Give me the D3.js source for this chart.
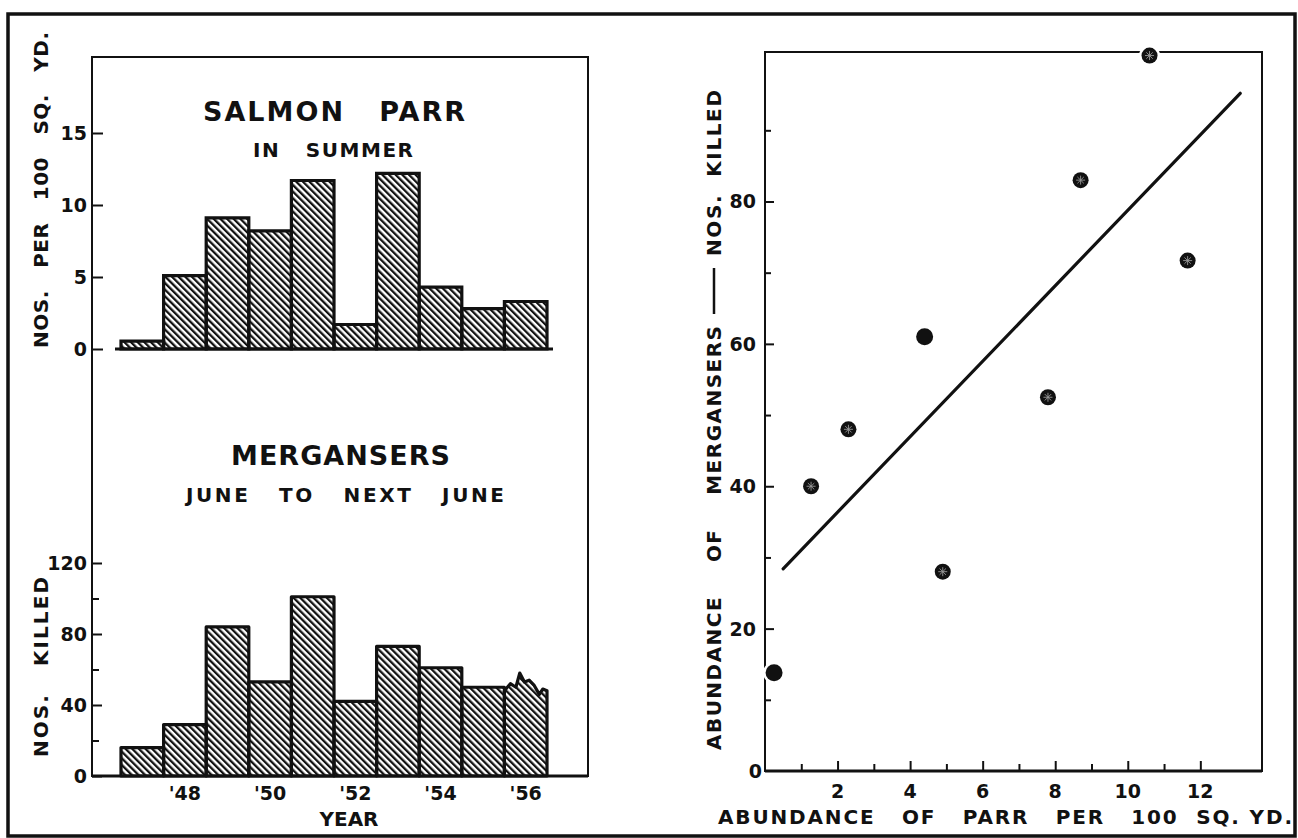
<!DOCTYPE html>
<html>
<head>
  <title>Salmon parr and mergansers</title>
  <script src="https://d3js.org/d3.v7.min.js"></script>
  <style>
    body { margin: 0; background: #fff; }
    text {
      font-family: "DejaVu Sans", sans-serif;
      font-weight: bold;
      fill: #111;
      white-space: pre;
    }
    .tick-label { font-size: 19px; }
    .title { font-size: 27px; }
    .subtitle { font-size: 20px; }
    .axis-title { font-size: 20px; }
  </style>
</head>
<body>
  <svg width="1298" height="838"></svg>

  <script>
    // salmon parr per 100 sq. yd. in summer, 1947-1956
    const years = [1947, 1948, 1949, 1950, 1951, 1952, 1953, 1954, 1955, 1956];
    const yearTicks = [1948, 1950, 1952, 1954, 1956];
    const yearLabels = ["'48", "'50", "'52", "'54", "'56"];
    const parr = [0.55, 5.1, 9.1, 8.2, 11.7, 1.7, 12.2, 4.3, 2.8, 3.3];
    const parrTicks = [0, 5, 10, 15];

    // mergansers killed, June to next June
    const mergansers = [16, 29, 84, 53, 101, 42, 73, 61, 50, 48];
    const mergTicks = [0, 40, 80, 120];
    const mergMinor = [20, 60, 100];
    // ragged top of the last (incomplete) bar: [fraction of bar width, value]
    const lastTop = [[0, 48], [0.14, 52], [0.27, 50], [0.36, 58], [0.47, 53], [0.58, 54], [0.7, 51], [0.82, 46], [0.9, 49], [1, 48]];

    // scatter: abundance of parr vs mergansers killed
    const abundParr = [0.25, 1.27, 2.3, 4.4, 4.9, 7.8, 8.7, 10.6, 11.65];
    const abundMerg = [13.8, 40, 48, 61, 28, 52.5, 83, 100.5, 71.7];
    const solidPoint = [true, false, false, true, false, false, false, false, false];
    const fitX = [0.5, 13.1];
    const fitY = [28.4, 95.2];
    const sxTicks = [2, 4, 6, 8, 10, 12];
    const sxMinor = [1, 3, 5, 7, 9, 11];
    const syTicks = [20, 40, 60, 80];
    const syMinor = [10, 30, 50, 70, 90];

    const svg = d3.select('svg');
    svg.append('rect').attr('width', 1298).attr('height', 838).attr('fill', '#fff');

    // hatch pattern
    const defs = svg.append('defs');
    defs.append('pattern')
      .attr('id', 'hatch')
      .attr('patternUnits', 'userSpaceOnUse')
      .attr('width', 4.7).attr('height', 10)
      .attr('patternTransform', 'rotate(-45)')
      .append('rect')
      .attr('x', 0).attr('y', 0).attr('width', 2.3).attr('height', 10)
      .attr('fill', '#111');

    // outer frame
    svg.append('rect')
      .attr('x', 8).attr('y', 14).attr('width', 1287).attr('height', 822)
      .attr('fill', 'none').attr('stroke', '#111').attr('stroke-width', 3.5);

    // ---------- left panel ----------
    const x = d3.scaleBand().domain(years).range([121, 547]).padding(0);
    const yParr = d3.scaleLinear().domain([0, 15]).range([349, 133]);
    const yMerg = d3.scaleLinear().domain([0, 120]).range([776, 563]);

    // box
    svg.append('rect')
      .attr('x', 92).attr('y', 57).attr('width', 496).attr('height', 719)
      .attr('fill', 'none').attr('stroke', '#111').attr('stroke-width', 2);

    function barPath(d, i, yScale, top) {
      const x0 = x(years[i]), x1 = x0 + x.bandwidth();
      const y0 = yScale(0);
      let p = `M${x0},${y0}L${x0},${yScale(d)}`;
      if (top) {
        top.forEach(t => { p += `L${x0 + t[0] * (x1 - x0)},${yScale(t[1])}`; });
      } else {
        p += `L${x1},${yScale(d)}`;
      }
      return p + `L${x1},${y0}Z`;
    }

    // top chart: salmon parr
    svg.append('g').selectAll('path')
      .data(parr)
      .enter().append('path')
      .attr('d', (d, i) => barPath(d, i, yParr))
      .attr('fill', 'url(#hatch)')
      .attr('stroke', '#111').attr('stroke-width', 3.2)
      .attr('stroke-linejoin', 'miter');

    svg.append('line')
      .attr('x1', 115).attr('x2', 553)
      .attr('y1', yParr(0)).attr('y2', yParr(0))
      .attr('stroke', '#111').attr('stroke-width', 3);

    const axParr = svg.append('g')
      .attr('transform', 'translate(92,0)')
      .call(d3.axisRight(yParr).tickValues(parrTicks).tickSize(11).tickFormat(''));
    axParr.select('.domain').remove();
    axParr.selectAll('line').attr('stroke', '#111').attr('stroke-width', 2);

    svg.append('g').selectAll('text')
      .data(parrTicks)
      .enter().append('text')
      .attr('class', 'tick-label')
      .attr('x', 87).attr('y', d => yParr(d) + 7)
      .attr('text-anchor', 'end')
      .text(d => d);

    svg.append('text').attr('class', 'title')
      .attr('x', 203).attr('y', 121)
      .attr('textLength', 262).attr('lengthAdjust', 'spacing')
      .text('SALMON   PARR');
    svg.append('text').attr('class', 'subtitle')
      .attr('x', 253).attr('y', 157)
      .attr('textLength', 160).attr('lengthAdjust', 'spacing')
      .text('IN   SUMMER');

    svg.append('text').attr('class', 'axis-title')
      .attr('transform', 'translate(48,348) rotate(-90)')
      .attr('textLength', 316).attr('lengthAdjust', 'spacing')
      .text('NOS.   PER   100   SQ.   YD.');

    // bottom chart: mergansers
    svg.append('g').selectAll('path')
      .data(mergansers)
      .enter().append('path')
      .attr('d', (d, i) => barPath(d, i, yMerg, i === mergansers.length - 1 ? lastTop : null))
      .attr('fill', 'url(#hatch)')
      .attr('stroke', '#111').attr('stroke-width', 3.2)
      .attr('stroke-linejoin', 'round');

    svg.append('line')
      .attr('x1', 92).attr('x2', 588)
      .attr('y1', yMerg(0)).attr('y2', yMerg(0))
      .attr('stroke', '#111').attr('stroke-width', 3);

    const axMerg = svg.append('g')
      .attr('transform', 'translate(92,0)')
      .call(d3.axisRight(yMerg).tickValues(mergTicks).tickSize(10).tickFormat(''));
    axMerg.select('.domain').remove();
    axMerg.selectAll('line').attr('stroke', '#111').attr('stroke-width', 2);

    const axMergMinor = svg.append('g')
      .attr('transform', 'translate(92,0)')
      .call(d3.axisRight(yMerg).tickValues(mergMinor).tickSize(7).tickFormat(''));
    axMergMinor.select('.domain').remove();
    axMergMinor.selectAll('line').attr('stroke', '#111').attr('stroke-width', 2);

    svg.append('g').selectAll('text')
      .data(mergTicks)
      .enter().append('text')
      .attr('class', 'tick-label')
      .attr('x', 87).attr('y', d => yMerg(d) + 7)
      .attr('text-anchor', 'end')
      .text(d => d);

    svg.append('g').selectAll('text')
      .data(yearTicks)
      .enter().append('text')
      .attr('class', 'tick-label')
      .attr('x', d => x(d) + x.bandwidth() / 2)
      .attr('y', 800)
      .attr('text-anchor', 'middle')
      .text((d, i) => yearLabels[i]);

    svg.append('text').attr('class', 'axis-title')
      .attr('x', 349).attr('y', 826)
      .attr('text-anchor', 'middle')
      .text('YEAR');

    svg.append('text').attr('class', 'title')
      .attr('x', 231).attr('y', 465)
      .attr('textLength', 219).attr('lengthAdjust', 'spacing')
      .text('MERGANSERS');
    svg.append('text').attr('class', 'subtitle')
      .attr('x', 186).attr('y', 502)
      .attr('textLength', 318).attr('lengthAdjust', 'spacing')
      .text('JUNE   TO   NEXT   JUNE');

    svg.append('text').attr('class', 'axis-title')
      .attr('transform', 'translate(48,757) rotate(-90)')
      .attr('textLength', 180).attr('lengthAdjust', 'spacing')
      .text('NOS.   KILLED');

    // ---------- right panel: scatter ----------
    const sx = d3.scaleLinear().domain([0, 13.7]).range([765, 1262]);
    const sy = d3.scaleLinear().domain([0, 101]).range([771, 52]);

    svg.append('rect')
      .attr('x', sx(0)).attr('y', sy(101))
      .attr('width', sx(13.7) - sx(0)).attr('height', sy(0) - sy(101))
      .attr('fill', 'none').attr('stroke', '#111').attr('stroke-width', 2);
    svg.append('line')
      .attr('x1', sx(0)).attr('x2', sx(13.7))
      .attr('y1', sy(0)).attr('y2', sy(0))
      .attr('stroke', '#111').attr('stroke-width', 3);

    function tidy(g) {
      g.select('.domain').remove();
      g.selectAll('line').attr('stroke', '#111').attr('stroke-width', 2);
    }
    svg.append('g').attr('transform', `translate(0,${sy(0)})`)
      .call(d3.axisTop(sx).tickValues(sxTicks).tickSize(10).tickFormat('')).call(tidy);
    svg.append('g').attr('transform', `translate(0,${sy(0)})`)
      .call(d3.axisTop(sx).tickValues(sxMinor).tickSize(7).tickFormat('')).call(tidy);
    svg.append('g').attr('transform', `translate(${sx(0)},0)`)
      .call(d3.axisRight(sy).tickValues(syTicks).tickSize(9).tickFormat('')).call(tidy);
    svg.append('g').attr('transform', `translate(${sx(0)},0)`)
      .call(d3.axisRight(sy).tickValues(syMinor).tickSize(6).tickFormat('')).call(tidy);

    svg.append('g').selectAll('text')
      .data(sxTicks)
      .enter().append('text')
      .attr('class', 'tick-label')
      .attr('x', d => sx(d)).attr('y', 798)
      .attr('text-anchor', 'middle')
      .text(d => d);

    svg.append('g').selectAll('text')
      .data([0].concat(syTicks))
      .enter().append('text')
      .attr('class', 'tick-label')
      .attr('x', d => d === 0 ? 762 : 756)
      .attr('y', d => sy(d) + 7)
      .attr('text-anchor', 'end')
      .text(d => d);

    svg.append('text').attr('class', 'axis-title')
      .attr('x', 718).attr('y', 824)
      .attr('textLength', 574).attr('lengthAdjust', 'spacing')
      .text('ABUNDANCE   OF   PARR   PER   100  SQ. YD.');

    // y title: two pieces joined by a long dash
    svg.append('text').attr('class', 'axis-title')
      .attr('transform', 'translate(721,750) rotate(-90)')
      .attr('textLength', 424).attr('lengthAdjust', 'spacing')
      .text('ABUNDANCE    OF    MERGANSERS');
    svg.append('line')
      .attr('x1', 714).attr('x2', 714).attr('y1', 314).attr('y2', 268)
      .attr('stroke', '#111').attr('stroke-width', 2.5);
    svg.append('text').attr('class', 'axis-title')
      .attr('transform', 'translate(721,256) rotate(-90)')
      .attr('textLength', 166).attr('lengthAdjust', 'spacing')
      .text('NOS.  KILLED');

    // fitted line
    svg.append('line')
      .attr('x1', sx(fitX[0])).attr('y1', sy(fitY[0]))
      .attr('x2', sx(fitX[1])).attr('y2', sy(fitY[1]))
      .attr('stroke', '#111').attr('stroke-width', 3.2)
      .attr('stroke-linecap', 'round');

    const pts = abundParr.map((v, i) => ({ x: v, y: abundMerg[i], solid: solidPoint[i] }));
    const pt = svg.append('g').selectAll('g')
      .data(pts)
      .enter().append('g')
      .attr('transform', d => `translate(${sx(d.x)},${sy(d.y)})`);

    pt.append('circle')
      .attr('r', d => d.solid ? 11 : 10.5)
      .attr('fill', '#fff');
    pt.append('circle')
      .attr('r', d => d.solid ? 8.5 : 8)
      .attr('fill', '#111');

    pt.filter(d => !d.solid).append('path')
      .attr('d', 'M-4.5,0H4.5M0,-4.5V4.5M-3.2,-3.2L3.2,3.2M-3.2,3.2L3.2,-3.2')
      .attr('stroke', '#999').attr('stroke-width', 0.9);
  </script>
</body>
</html>
